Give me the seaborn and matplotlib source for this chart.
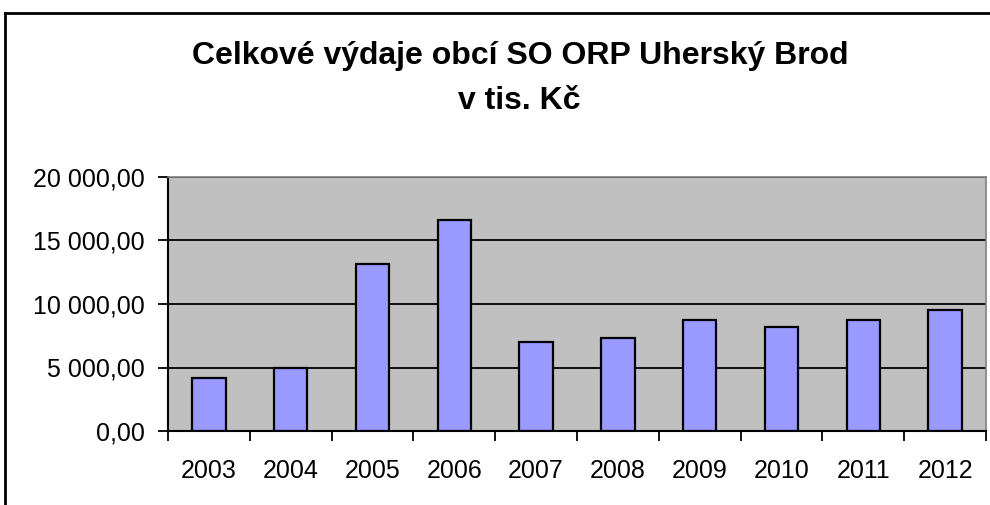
import matplotlib
matplotlib.use("Agg")
import matplotlib.pyplot as plt
import seaborn as sns
import pandas as pd
from matplotlib.lines import Line2D
from matplotlib.ticker import FuncFormatter, FixedLocator

# data
roky = ['2003', '2004', '2005', '2006', '2007', '2008', '2009', '2010', '2011', '2012']
vydaje = [4200, 4950, 13150, 16600, 7030, 7350, 8750, 8150, 8750, 9530]
y_ticks = [0, 5000, 10000, 15000, 20000]

df = pd.DataFrame({'rok': roky, 'vydaje': vydaje})

plt.rcParams['font.family'] = ['Liberation Sans', 'DejaVu Sans']
plt.rcParams['text.color'] = 'black'
plt.rcParams['xtick.color'] = 'black'
plt.rcParams['ytick.color'] = 'black'

fig = plt.figure(figsize=(9.9, 5.05), dpi=100)
ax = fig.add_axes([168 / 990, 1 - 431 / 505, (986 - 168) / 990, (431 - 177) / 505])
ax.set_facecolor('#C0C0C0')

sns.barplot(data=df, x='rok', y='vydaje', color='#9999FF', edgecolor='black',
            linewidth=1.6, width=0.41, saturation=1, ax=ax, zorder=3)

ax.set_ylim(0, 20000)
ax.set_xlim(-0.5, len(roky) - 0.5)
ax.set_yticks(y_ticks)
ax.yaxis.set_major_formatter(FuncFormatter(
    lambda v, p: f'{v:,.2f}'.replace(',', ' ').replace('.', ',')))
ax.yaxis.grid(True, color='black', linewidth=1.3, zorder=1)
ax.xaxis.grid(False)
ax.set_axisbelow(True)

# tick marks between categories, like Excel
ax.xaxis.set_minor_locator(FixedLocator([i - 0.5 for i in range(len(roky) + 1)]))
ax.tick_params(axis='x', which='major', length=0, pad=20, labelsize=18)
ax.tick_params(axis='x', which='minor', bottom=True, length=7, width=1.3,
               direction='out', color='black')
ax.tick_params(axis='y', which='major', left=True, length=7, width=1.3, direction='out',
               color='black', pad=10, labelsize=18)
ax.set_xlabel('')
ax.set_ylabel('')

for s in ['left', 'bottom']:
    ax.spines[s].set_color('black')
    ax.spines[s].set_linewidth(1.5)
for s in ['top', 'right']:
    ax.spines[s].set_color('#808080')
    ax.spines[s].set_linewidth(1.2)

fig.text(0.525, 1 - 56 / 505, 'Celkové výdaje obcí SO ORP Uherský Brod',
         ha='center', va='center', fontsize=23, fontweight='bold')
fig.text(0.525, 1 - 101 / 505, 'v tis. Kč',
         ha='center', va='center', fontsize=23, fontweight='bold')

# chart area frame (left and top visible)
fig.add_artist(Line2D([5 / 990, 5 / 990], [0, 1 - 13 / 505], color='black', linewidth=2,
                      transform=fig.transFigure))
fig.add_artist(Line2D([5 / 990, 1], [1 - 13 / 505, 1 - 13 / 505], color='black', linewidth=2,
                      transform=fig.transFigure))

fig.savefig('out.png', dpi=100)
